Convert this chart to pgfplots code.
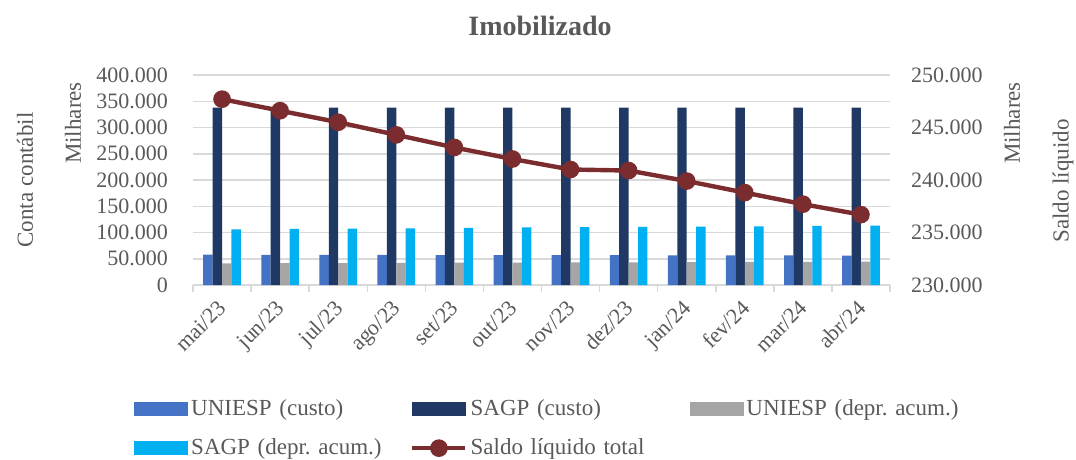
\documentclass[border=0pt]{standalone}
\usepackage{fontspec}
\setmainfont{Liberation Serif}
\usepackage{pgfplots}
\pgfplotsset{compat=1.18}
\frenchspacing

\definecolor{cUc}{HTML}{4472C4}
\definecolor{cSc}{HTML}{203864}
\definecolor{cUd}{HTML}{A5A5A5}
\definecolor{cSd}{HTML}{00B0F0}
\definecolor{cLine}{HTML}{7B2C2F}
\definecolor{cText}{HTML}{595959}
\definecolor{cGrid}{HTML}{D9D9D9}

% values in thousands of R$ (chart shows "Milhares")
\pgfplotstableread{
x  uc     sc      ud     sd      saldo
0  57700  337700  41300  106000  247700
1  57600  337700  41500  106800  246600
2  57500  337700  41800  107300  245500
3  57300  337700  42100  108000  244300
4  57100  337700  42400  108900  243100
5  56900  337700  42700  109600  242000
6  56800  337700  43000  110300  241000
7  56700  337700  43300  110700  240900
8  56500  337700  43600  111300  239900
9  56300  337700  43900  111900  238800
10 56200  337700  44200  112500  237700
11 56000  337700  44500  113200  236700
}\datatable

\pgfplotsset{
  common/.style={
    at={(96.5pt,-142.5pt)}, anchor=south west,
    scale only axis, width=348.5pt, height=105pt,
    xmin=-0.5, xmax=11.5,
    scaled y ticks=false,
    tick label style={font=\fontsize{11}{13}\selectfont, text=cText},
    /pgf/number format/assume math mode=true,
    /pgf/number format/fixed,
    /pgf/number format/precision=0,
    /pgf/number format/1000 sep={.},
    ytick style={draw=none},
  }
}

\begin{document}
\begin{tikzpicture}
\useasboundingbox (0pt,0pt) rectangle (538pt,-230pt);

\begin{axis}[common,
  ybar=0pt, bar width=4.7pt,
  ymin=0, ymax=400000,
  ytick={0,50000,...,400000},
  axis x line*=bottom, axis y line*=left,
  separate axis lines,
  y axis line style={draw=none},
  x axis line style={draw=cGrid, line width=0.75pt},
  ymajorgrids, grid style={draw=cGrid, line width=0.75pt},
  xtick={0,...,11},
  xticklabels={mai/23,jun/23,jul/23,ago/23,set/23,out/23,nov/23,dez/23,jan/24,fev/24,mar/24,abr/24},
  xtick style={draw=none},
  xticklabel style={rotate=45, anchor=north east, inner sep=1pt, xshift=-2.5pt, yshift=1pt},
  extra x ticks={-0.5,0.5,...,11.5},
  extra x tick labels={},
  extra x tick style={major tick length=3.5pt, tick align=outside,
    xtick style={draw=cGrid, line width=0.75pt}},
  yticklabel style={xshift=-9pt},
]
\addplot[fill=cUc, draw=none] table[x=x, y=uc] {\datatable};
\addplot[fill=cSc, draw=none] table[x=x, y=sc] {\datatable};
\addplot[fill=cUd, draw=none] table[x=x, y=ud] {\datatable};
\addplot[fill=cSd, draw=none] table[x=x, y=sd] {\datatable};
\end{axis}

\begin{axis}[common,
  ymin=230000, ymax=250000,
  ytick={230000,235000,...,250000},
  axis y line*=right, axis x line=none,
  y axis line style={draw=none},
  yticklabel style={anchor=west, xshift=7pt},
  legend columns=3,
  legend style={draw=none, fill=none, inner sep=0pt, at={(-0.0846,-0.53)}, anchor=north west,
    font=\fontsize{11.5}{13}\selectfont, text=cText,
    nodes={text width=108pt, align=left, inner sep=1.5pt},
    row sep=7pt},
  legend cell align=left,
]
\addlegendimage{legend image code/.code={\fill[cUc] (0pt,-3.2pt) rectangle (26.5pt,3.2pt);}}
\addlegendentry{UNIESP (custo)}
\addlegendimage{legend image code/.code={\fill[cSc] (0pt,-3.2pt) rectangle (26.5pt,3.2pt);}}
\addlegendentry{SAGP (custo)}
\addlegendimage{legend image code/.code={\fill[cUd] (0pt,-3.2pt) rectangle (26.5pt,3.2pt);}}
\addlegendentry{UNIESP (depr. acum.)}
\addlegendimage{legend image code/.code={\fill[cSd] (0pt,-3.2pt) rectangle (26.5pt,3.2pt);}}
\addlegendentry{SAGP (depr. acum.)}
\addplot[cLine, line width=2.2pt, mark=*, mark size=3.3pt, mark options={fill=cLine, draw=cLine},
  legend image code/.code={\draw[cLine, line width=2.2pt] (0pt,0pt) -- (26.5pt,0pt);
    \fill[cLine] (13.25pt,0pt) circle (3.3pt);}]
  table[x=x, y=saldo] {\datatable};
\addlegendentry{Saldo líquido total}
\end{axis}

\node[text=cText, font=\bfseries\fontsize{14}{16}\selectfont] at (270pt,-13pt) {Imobilizado};
\node[text=cText, rotate=90, font=\fontsize{11.5}{13}\selectfont] at (12.5pt,-90pt) {Conta contábil};
\node[text=cText, rotate=90, font=\fontsize{11.5}{13}\selectfont] at (36.5pt,-61.5pt) {Milhares};
\node[text=cText, rotate=90, font=\fontsize{11.5}{13}\selectfont] at (506pt,-61.5pt) {Milhares};
\node[text=cText, rotate=90, font=\fontsize{11.5}{13}\selectfont] at (531.5pt,-90.5pt) {Saldo líquido};
\end{tikzpicture}
\end{document}
